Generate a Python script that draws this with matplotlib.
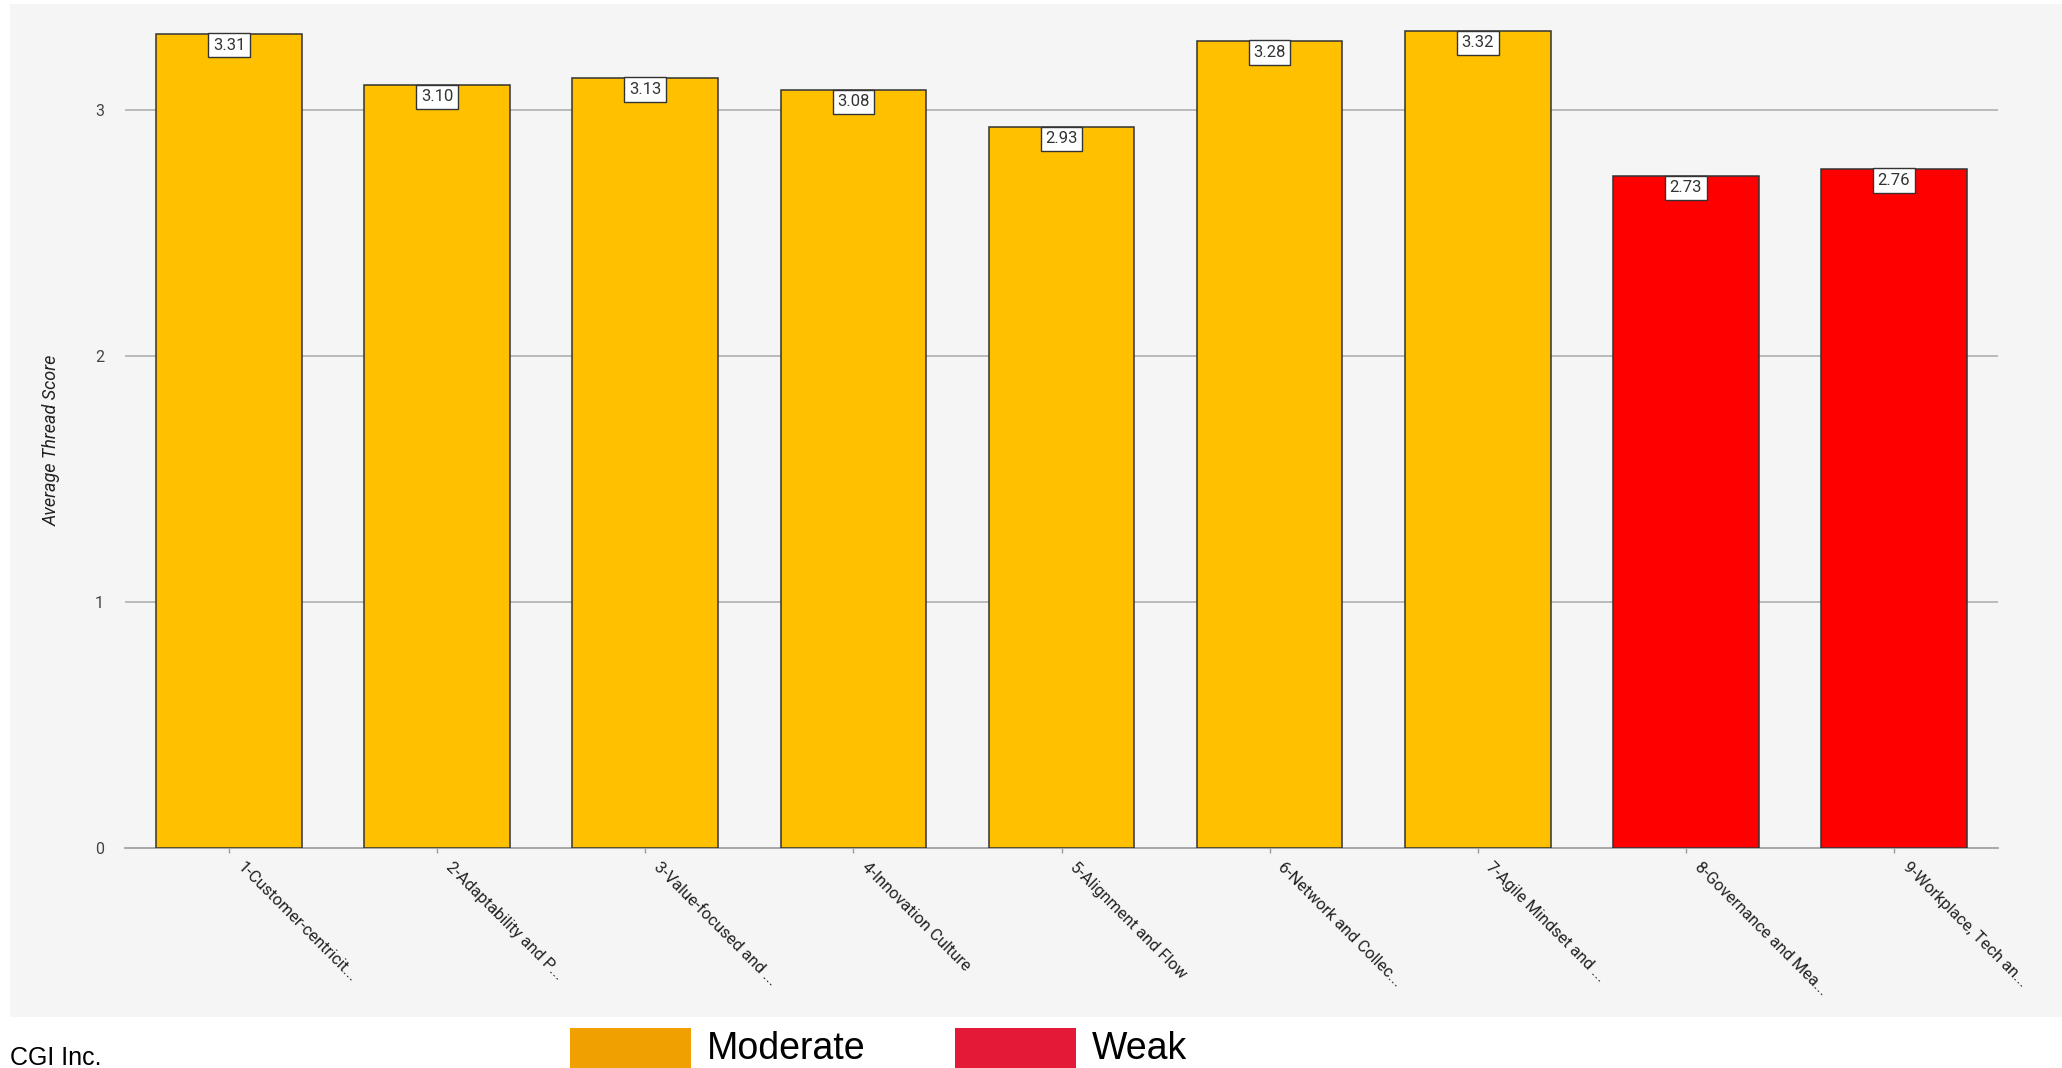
import matplotlib
matplotlib.use("Agg")
import matplotlib.pyplot as plt
from matplotlib.patches import Rectangle
from matplotlib.transforms import ScaledTranslation

categories = ["1-Customer-centricit...", "2-Adaptability and P...", "3-Value-focused and ...",
              "4-Innovation Culture", "5-Alignment and Flow", "6-Network and Collec...",
              "7-Agile Mindset and ...", "8-Governance and Mea...", "9-Workplace, Tech an..."]
scores = [3.31, 3.10, 3.13, 3.08, 2.93, 3.28, 3.32, 2.73, 2.76]
levels = ["Moderate", "Moderate", "Moderate", "Moderate", "Moderate", "Moderate", "Moderate",
          "Weak", "Weak"]
yticks = [0, 1, 2, 3]
legend_labels = ["Moderate", "Weak"]

bar_colors = {"Moderate": "#ffc000", "Weak": "#ff0000"}
legend_colors = {"Moderate": "#f0a000", "Weak": "#e31937"}

W, H = 2062, 1068
fig = plt.figure(figsize=(W / 100, H / 100), dpi=100)
fig.patch.set_facecolor("white")

# chart panel background
fig.patches.append(Rectangle((10 / W, (H - 1017) / H), 1 - 10 / W, (1017 - 4) / H,
                             transform=fig.transFigure, facecolor="#f5f5f5",
                             edgecolor="none", zorder=-5))

ax = fig.add_axes([125 / W, (H - 848) / H, (1998 - 125) / W, (848 - 11.6) / H])
ax.set_zorder(2)
ax.set_facecolor("none")
x = list(range(len(categories)))
ax.bar(x, scores, width=0.70, color=[bar_colors[l] for l in levels],
       edgecolor="#333333", linewidth=1.1, zorder=3)
ax.set_xlim(-0.5, len(categories) - 0.5)
ax.set_ylim(0, 3.4)

for s in ["top", "right", "left"]:
    ax.spines[s].set_visible(False)
ax.spines["bottom"].set_color("#9a9a9a")
ax.spines["bottom"].set_linewidth(1.2)
ax.spines["bottom"].set_zorder(2)

ax.set_yticks(yticks)
ax.set_yticklabels([str(t) for t in yticks], fontfamily="Roboto", fontsize=11.5, color="#444444")
ax.tick_params(axis="y", length=0, pad=15)
for t in yticks[1:]:
    ax.axhline(t, color="#aaaaaa", linewidth=1.1, zorder=1)

ax.set_xticks(x)
ax.set_xticklabels([])
ax.tick_params(axis="x", length=3.8, width=1, color="#9a9a9a")

label_tr = ax.get_xaxis_transform() + ScaledTranslation(11 / 100, -17 / 100, fig.dpi_scale_trans)
for xi, lab in zip(x, categories):
    ax.text(xi, 0, lab, transform=label_tr, rotation=-45, ha="left", va="center",
            rotation_mode="anchor", fontfamily="Roboto", fontsize=11.8, color="#222222",
            clip_on=False)

for xi, v in zip(x, scores):
    ax.annotate(f"{v:.2f}", xy=(xi, v), xytext=(0, -11.5), textcoords="offset pixels",
                ha="center", va="center", fontfamily="Roboto", fontsize=12, color="#333333",
                bbox=dict(boxstyle="square,pad=0.28", facecolor="white", edgecolor="#333333",
                          linewidth=1.0), zorder=5)

fig.text(52 / W, (H - 440) / H, "Average Thread Score", rotation=90, ha="center", va="center",
         fontfamily="Roboto", fontstyle="italic", fontsize=13, color="#222222")

# legend
swatch_x = [570, 955]
text_x = [707, 1092]
for lab, sx, tx in zip(legend_labels, swatch_x, text_x):
    fig.patches.append(Rectangle((sx / W, 0), 121 / W, (H - 1028) / H,
                                 transform=fig.transFigure, facecolor=legend_colors[lab],
                                 edgecolor="none", zorder=1))
    fig.text(tx / W, (H - 1059) / H, lab, ha="left", va="baseline",
             fontfamily="Liberation Sans", fontsize=27, color="black")

fig.text(10 / W, (H - 1065) / H, "CGI Inc.", ha="left", va="baseline",
         fontfamily="Liberation Sans", fontsize=18, color="black")

fig.savefig("out.png", dpi=100)
